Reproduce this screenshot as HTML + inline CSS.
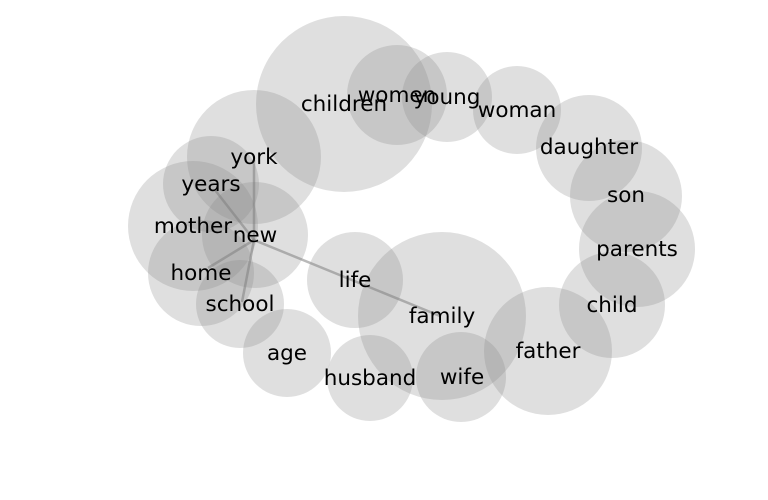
<!DOCTYPE html>
<html><head><style>body{margin:0;background:#fff}svg{display:block}</style></head><body>
<svg width="768" height="500" xmlns="http://www.w3.org/2000/svg">
<rect width="768" height="500" fill="#fff"/>
<g fill="#888" fill-opacity="0.27">
<circle cx="344" cy="104" r="88"/>
<circle cx="397" cy="95" r="50"/>
<circle cx="447" cy="97" r="45"/>
<circle cx="517" cy="110" r="44"/>
<circle cx="589" cy="148" r="53"/>
<circle cx="626" cy="196" r="56"/>
<circle cx="637" cy="249" r="58"/>
<circle cx="612" cy="305" r="53"/>
<circle cx="548" cy="351" r="64"/>
<circle cx="442" cy="316" r="84"/>
<circle cx="461" cy="377" r="45"/>
<circle cx="370" cy="378" r="43"/>
<circle cx="355" cy="280" r="48"/>
<circle cx="287" cy="353" r="44"/>
<circle cx="240" cy="304" r="44"/>
<circle cx="201" cy="273" r="53"/>
<circle cx="193" cy="226" r="65"/>
<circle cx="211" cy="184" r="48"/>
<circle cx="254" cy="157" r="67"/>
<circle cx="255" cy="235" r="53"/>
</g>
<g stroke="#808080" stroke-opacity="0.55" stroke-width="2.5" fill="none">
<line x1="254" y1="240" x2="254" y2="160"/>
<line x1="254" y1="240" x2="215" y2="190"/>
<line x1="254" y1="240" x2="208" y2="268"/>
<line x1="254" y1="240" x2="242" y2="302"/>
<line x1="254" y1="240" x2="440" y2="316"/>
</g>
<g font-family="DejaVu Sans, sans-serif" font-size="21.5" text-anchor="middle" fill="#000">
<text x="344" y="111">children</text>
<text x="397" y="102">women</text>
<text x="447" y="104">young</text>
<text x="517" y="117">woman</text>
<text x="589" y="154">daughter</text>
<text x="626" y="202">son</text>
<text x="637" y="256">parents</text>
<text x="612" y="312">child</text>
<text x="548" y="358">father</text>
<text x="442" y="323">family</text>
<text x="462" y="384">wife</text>
<text x="370" y="385">husband</text>
<text x="355" y="287">life</text>
<text x="287" y="360">age</text>
<text x="240" y="311">school</text>
<text x="201" y="280">home</text>
<text x="193" y="233">mother</text>
<text x="211" y="191">years</text>
<text x="254" y="164">york</text>
<text x="255" y="242">new</text>
</g>
</svg>
</body></html>
